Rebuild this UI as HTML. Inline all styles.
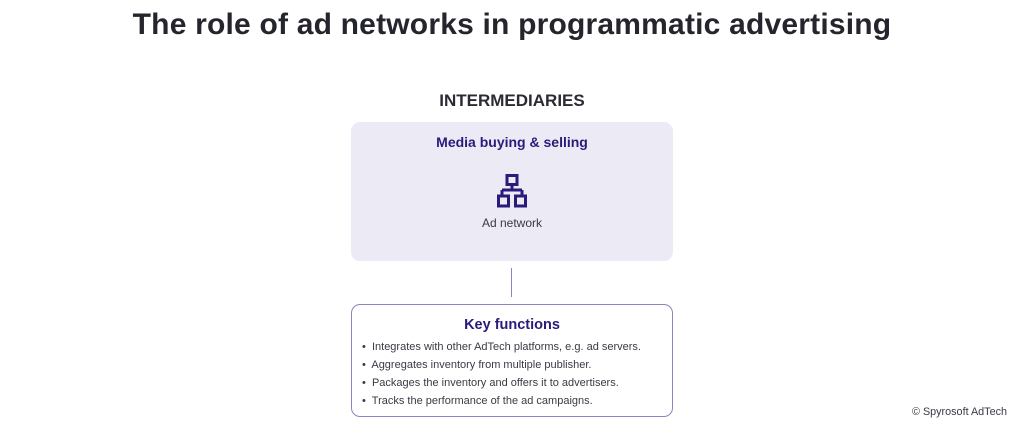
<!DOCTYPE html>
<html><head><style>
body{margin:0;width:1024px;height:432px;background:#fff;font-family:"Liberation Sans",sans-serif;position:relative;overflow:hidden;color:#2b2b33}
.a{position:absolute}
h1{position:absolute;left:0;width:1024px;top:8px;margin:0;text-align:center;font-size:30px;font-weight:bold;color:#25252d;letter-spacing:0.2px}
.box1{left:351px;top:122px;width:322px;height:139px;background:#ecebf5;border-radius:9px}
.box2{left:351px;top:304px;width:320px;height:111px;border:1px solid #8b84c0;border-radius:9px}
.t{color:#2a1a7a;font-weight:bold;text-align:center;width:100%}
ul{margin:0;padding:0;list-style:none}
li{font-size:11px;color:#3a3a44;height:18px;line-height:18px}
</style></head><body>
<h1>The role of ad networks in programmatic advertising</h1>
<div class="a" style="left:0;width:1024px;top:91px;text-align:center;font-weight:bold;font-size:17px;color:#2b2b33">INTERMEDIARIES</div>
<div class="a box1">
 <div class="a t" style="top:12px;font-size:14px">Media buying &amp; selling</div>
 <svg class="a" style="left:146px;top:52px" width="30" height="34" viewBox="0 0 30 34" fill="none" stroke="#2a1a7a" stroke-width="3">
  <rect x="10" y="1.5" width="10" height="9"/>
  <path d="M15 10.5V16M5 16H25M5 16V22M25 16V22"/>
  <rect x="1.5" y="22" width="10" height="10"/>
  <rect x="18.5" y="22" width="10" height="10"/>
 </svg>
 <div class="a" style="top:94px;width:100%;text-align:center;font-size:12px;color:#3a3a44">Ad network</div>
</div>
<div class="a" style="left:511px;top:268px;width:1px;height:29px;background:#8b84c0"></div>
<div class="a box2">
 <div class="a t" style="top:12px;font-size:14.5px">Key functions</div>
 <ul class="a" style="left:10px;top:33px">
  <li>•&nbsp; Integrates with other AdTech platforms, e.g. ad servers.</li>
  <li>•&nbsp; Aggregates inventory from multiple publisher.</li>
  <li>•&nbsp; Packages the inventory and offers it to advertisers.</li>
  <li>•&nbsp; Tracks the performance of the ad campaigns.</li>
 </ul>
</div>
<div class="a" style="left:912px;top:406px;font-size:10.8px;color:#3a3a44">© Spyrosoft AdTech</div>
</body></html>
